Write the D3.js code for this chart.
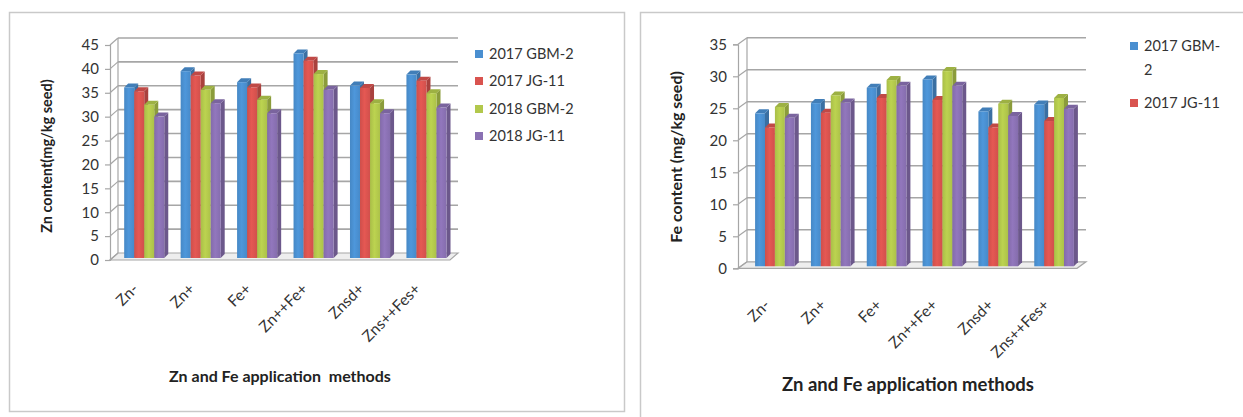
<!DOCTYPE html>
<html>
<head>
<meta charset="utf-8">
<script src="https://cdn.jsdelivr.net/npm/d3@7"></script>
<style>
  html, body { margin: 0; padding: 0; background: #fff; }
  svg { display: block; font-family: Lato, "Open Sans", sans-serif; }
</style>
</head>
<body>
<svg id="fig" width="1243" height="417"></svg>
<script>
// Application methods on the x axis
const categories = ["Zn-", "Zn+", "Fe+", "Zn++Fe+", "Znsd+", "Zns++Fes+"];
const seriesNames = ["2017 GBM-2", "2017 JG-11", "2018 GBM-2", "2018 JG-11"];
const seriesColors = ["#4a8fd0", "#d9534f", "#b2c84c", "#8a71b3"];

// Zn content (mg/kg seed)
const znGBM2017 = [35.7, 39.1, 36.8, 42.8, 36.1, 38.4];
const znJG2017  = [34.9, 38.2, 35.7, 41.3, 35.6, 37.1];
const znGBM2018 = [32.1, 35.2, 33.1, 38.5, 32.4, 34.5];
const znJG2018  = [29.6, 32.4, 30.3, 35.2, 30.3, 31.5];
const znTicks = [0, 5, 10, 15, 20, 25, 30, 35, 40, 45];

// Fe content (mg/kg seed)
const feGBM2017 = [23.9, 25.5, 27.9, 29.2, 24.2, 25.3];
const feJG2017  = [21.7, 24.0, 26.3, 26.0, 21.7, 22.7];
const feGBM2018 = [24.9, 26.7, 29.1, 30.5, 25.4, 26.3];
const feJG2018  = [23.2, 25.6, 28.2, 28.2, 23.5, 24.6];
const feTicks = [0, 5, 10, 15, 20, 25, 30, 35];

const svg = d3.select("#fig");
const defs = svg.append("defs");

// Front-face shading for the pseudo-3D columns
seriesColors.forEach((c, i) => {
  const g = defs.append("linearGradient").attr("id", "grad" + i)
    .attr("x1", 0).attr("x2", 1).attr("y1", 0).attr("y2", 0);
  const base = d3.color(c);
  g.append("stop").attr("offset", "0%").attr("stop-color", base.darker(0.15));
  g.append("stop").attr("offset", "45%").attr("stop-color", base.brighter(0.15));
  g.append("stop").attr("offset", "100%").attr("stop-color", base.darker(0.1));
});

function drawChart(cfg) {
  const g = svg.append("g");
  const { frontX, frontRight, dx, dy, bandRange, yRange } = cfg;

  const y = d3.scaleLinear().domain([0, d3.max(cfg.ticks)]).range(yRange);
  const x0 = d3.scaleBand().domain(cfg.categories).range(bandRange)
    .paddingInner(0.29).paddingOuter(0.145);
  const x1 = d3.scaleBand().domain(d3.range(cfg.series.length)).range([0, x0.bandwidth()]);

  const grid = "#a6a6a6";

  // floor
  const y0 = y(0);
  g.append("path")
    .attr("d", `M${frontX},${y0} L${frontRight},${y0} L${frontRight + dx},${y0 + dy} L${frontX + dx},${y0 + dy} Z`)
    .attr("fill", "#eeeeee").attr("stroke", grid).attr("stroke-width", 1.2);

  // back wall gridlines
  g.selectAll(".grid").data(cfg.ticks.filter(t => t > 0)).join("line")
    .attr("x1", frontX + dx).attr("x2", frontRight + dx)
    .attr("y1", d => y(d) + dy).attr("y2", d => y(d) + dy)
    .attr("stroke", grid).attr("stroke-width", 1.6);
  // back wall left edge
  g.append("line").attr("x1", frontX + dx).attr("x2", frontX + dx)
    .attr("y1", y0 + dy).attr("y2", y(d3.max(cfg.ticks)) + dy)
    .attr("stroke", grid).attr("stroke-width", 1.2);
  // side wall connectors
  g.selectAll(".conn").data(cfg.ticks).join("line")
    .attr("x1", frontX).attr("x2", frontX + dx)
    .attr("y1", d => y(d)).attr("y2", d => y(d) + dy)
    .attr("stroke", grid).attr("stroke-width", 1.2);

  // value axis (front)
  const axis = d3.axisLeft(y).tickValues(cfg.ticks).tickSize(5).tickPadding(6);
  const ag = g.append("g").attr("transform", `translate(${frontX},0)`).call(axis);
  ag.select(".domain").attr("stroke", grid).attr("stroke-width", 1.2);
  ag.selectAll(".tick line").attr("stroke", grid).attr("stroke-width", 1.2);
  ag.selectAll(".tick text").attr("font-size", 15).attr("fill", "#333")
    .attr("font-family", "Lato, sans-serif");

  // columns
  const bw = x1.bandwidth();
  const bd = 4; // column depth
  const off = 2; // column front offset into the depth
  cfg.categories.forEach((cat, ci) => {
    cfg.series.forEach((vals, si) => {
      const xl = x0(cat) + x1(si) + off;
      const yt = y(vals[ci]) - off;
      const yb = y(0) - off;
      const col = d3.color(seriesColors[si]);
      const bg = g.append("g");
      // side face
      bg.append("path")
        .attr("d", `M${xl + bw},${yt} L${xl + bw + bd},${yt - bd} L${xl + bw + bd},${yb - bd} L${xl + bw},${yb} Z`)
        .attr("fill", col.darker(0.7));
      // top face
      bg.append("path")
        .attr("d", `M${xl},${yt} L${xl + bw},${yt} L${xl + bw + bd},${yt - bd} L${xl + bd},${yt - bd} Z`)
        .attr("fill", col.darker(0.35));
      // front face
      bg.append("rect").attr("x", xl).attr("y", yt).attr("width", bw).attr("height", yb - yt)
        .attr("fill", `url(#grad${si})`);
    });
  });

  // category labels
  g.selectAll(".cat").data(cfg.categories).join("text")
    .attr("transform", d => `translate(${x0(d) + x0.bandwidth() / 2 + cfg.labelDx},${cfg.labelY}) rotate(-45)`)
    .attr("text-anchor", "end")
    .attr("font-size", 15.5).attr("fill", "#333")
    .text(d => d);

  // axis titles
  g.append("text")
    .attr("transform", `translate(${cfg.yTitle.x},${cfg.yTitle.y}) rotate(-90)`)
    .attr("text-anchor", "middle").attr("font-weight", "bold")
    .attr("font-size", cfg.yTitle.size).attr("fill", "#222")
    .text(cfg.yTitle.text);
  g.append("text")
    .attr("x", cfg.xTitle.x).attr("y", cfg.xTitle.y)
    .attr("text-anchor", "middle").attr("font-weight", "bold")
    .attr("font-size", cfg.xTitle.size).attr("fill", "#222")
    .attr("xml:space", "preserve").style("white-space", "pre")
    .text(cfg.xTitle.text);

  // legend
  const lg = g.append("g");
  cfg.legend.forEach((it) => {
    lg.append("rect").attr("x", it.x).attr("y", it.y - 4).attr("width", 8).attr("height", 8)
      .attr("fill", seriesColors[it.s]);
    it.lines.forEach((ln, li) => {
      lg.append("text").attr("x", it.x + 14).attr("y", it.y + 5 + li * 24)
        .attr("font-size", 14.5).attr("fill", "#333").text(ln);
    });
  });
}

// frames
svg.append("rect").attr("x", 9.5).attr("y", 12.5).attr("width", 615).attr("height", 399)
  .attr("fill", "none").attr("stroke", "#c9c9c9").attr("stroke-width", 1.5);
svg.append("rect").attr("x", 640.5).attr("y", 12.5).attr("width", 640).attr("height", 440)
  .attr("fill", "none").attr("stroke", "#c9c9c9").attr("stroke-width", 1.5);

drawChart({
  categories,
  series: [znGBM2017, znJG2017, znGBM2018, znJG2018],
  ticks: znTicks,
  frontX: 110, frontRight: 450, dx: 8, dy: -7,
  bandRange: [114, 452.7], yRange: [260, 45],
  labelDx: -3, labelY: 290,
  yTitle: { x: 52, y: 156, size: 14.5, text: "Zn content(mg/kg seed)" },
  xTitle: { x: 280, y: 382, size: 16, text: "Zn and Fe application  methods" },
  legend: [
    { s: 0, x: 475, y: 54, lines: ["2017 GBM-2"] },
    { s: 1, x: 475, y: 81, lines: ["2017 JG-11"] },
    { s: 2, x: 475, y: 109, lines: ["2018 GBM-2"] },
    { s: 3, x: 475, y: 136, lines: ["2018 JG-11"] }
  ]
});

drawChart({
  categories,
  series: [feGBM2017, feJG2017, feGBM2018, feJG2018],
  ticks: feTicks,
  frontX: 738, frontRight: 1077, dx: 9, dy: -6.5,
  bandRange: [745, 1080], yRange: [268.3, 44.3],
  labelDx: -2, labelY: 306,
  yTitle: { x: 682, y: 157, size: 16, text: "Fe content (mg/kg seed)" },
  xTitle: { x: 908, y: 391, size: 18.5, text: "Zn and Fe application methods" },
  legend: [
    { s: 0, x: 1130, y: 46, lines: ["2017 GBM-", "2"] },
    { s: 1, x: 1130, y: 103, lines: ["2017 JG-11"] }
  ]
});
</script>
</body>
</html>
